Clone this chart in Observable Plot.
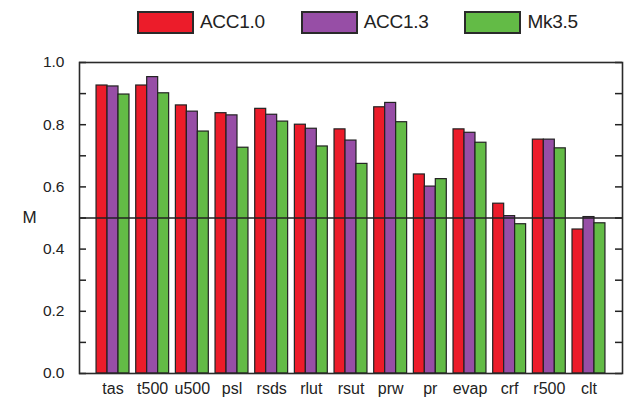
<!DOCTYPE html>
<html>
<head>
<meta charset="utf-8">
<script src="https://cdn.jsdelivr.net/npm/d3@7"></script>
<script src="https://cdn.jsdelivr.net/npm/@observablehq/plot@0.6"></script>
<style>
  html, body { margin: 0; padding: 0; background: #fff; }
  body { width: 624px; height: 405px; overflow: hidden; font-family: "Liberation Sans", Arial, sans-serif; }
  #legend { height: 44px; display: flex; align-items: center; padding-left: 137px; gap: 36px; box-sizing: border-box; }
  .item { display: flex; align-items: center; gap: 6px; font-size: 19px; color: #222; letter-spacing: -0.3px; }
  .sw { width: 53px; height: 19px; border: 2px solid #2a2a2a; }
  #chart svg { display: block; }
</style>
</head>
<body>
<div id="legend"></div>
<div id="chart"></div>
<script>
const variables = ["tas","t500","u500","psl","rsds","rlut","rsut","prw","pr","evap","crf","r500","clt"];
const models = ["ACC1.0","ACC1.3","Mk3.5"];
const colors = ["#ec1c2a","#974ea6","#63bb46"];
const acc10 = [0.926,0.926,0.862,0.837,0.851,0.800,0.785,0.856,0.640,0.785,0.546,0.752,0.463];
const acc13 = [0.923,0.953,0.842,0.830,0.832,0.787,0.749,0.870,0.601,0.774,0.506,0.752,0.503];
const mk35  = [0.897,0.901,0.778,0.726,0.810,0.730,0.674,0.808,0.625,0.742,0.480,0.724,0.483];
const yTicks = [0, 0.2, 0.4, 0.6, 0.8, 1.0];
const yMinorTicks = [0.1, 0.3, 0.5, 0.7, 0.9];
const refLine = [0.5];

const series = [acc10, acc13, mk35];
const rows = models.map((m, k) => variables.map((v, i) => ({variable: v, model: m, value: series[k][i]})));

// legend
const legend = document.getElementById("legend");
models.forEach((m, k) => {
  const it = document.createElement("div");
  it.className = "item";
  it.innerHTML = `<div class="sw" style="background:${colors[k]}"></div><span>${m}</span>`;
  legend.appendChild(it);
});

const W = 624, H = 361, mL = 79, mR = 2, mT = 18, mB = 32;
const pIn = 0.17, pOut = 0.43;
const step = (W - mL - mR) / (variables.length - pIn + 2 * pOut);
const bw = step * (1 - pIn);
const third = bw / 3;
const innerW = W - mL - mR;

const barStyle = {stroke: "#222", strokeWidth: 1.2};

const plot = Plot.plot({
  width: W, height: H,
  marginLeft: mL, marginRight: mR, marginTop: mT, marginBottom: mB,
  style: {fontFamily: "'Liberation Sans', Arial, sans-serif", background: "#fff", color: "#222"},
  x: {domain: variables, paddingInner: pIn, paddingOuter: pOut, round: false, axis: null},
  y: {domain: [0, 1], axis: null},
  marks: [
    Plot.barY(rows[0], {x: "variable", y: "value", fill: colors[0], ...barStyle, insetLeft: 0, insetRight: 2 * third}),
    Plot.barY(rows[1], {x: "variable", y: "value", fill: colors[1], ...barStyle, insetLeft: third, insetRight: third}),
    Plot.barY(rows[2], {x: "variable", y: "value", fill: colors[2], ...barStyle, insetLeft: 2 * third, insetRight: 0}),
    Plot.ruleY(refLine, {stroke: "#222", strokeWidth: 1.5}),
    Plot.tickY([...yTicks, ...yMinorTicks], {y: d => d, stroke: "#222", strokeWidth: 1.5, insetRight: innerW - 7}),
    Plot.tickY([...yTicks, ...yMinorTicks], {y: d => d, stroke: "#222", strokeWidth: 1.5, insetLeft: innerW - 7}),
    Plot.axisY({ticks: yTicks, tickSize: 0, tickPadding: 15, tickFormat: d3.format(".1f"), fontSize: 15.5, label: null, fill: "#222"}),
    Plot.axisX({tickSize: 0, tickPadding: 9, fontSize: 16, label: null, fill: "#222"}),
    Plot.text(["M"], {text: d => d, frameAnchor: "left", dx: -50, fontSize: 17, fill: "#222", textAnchor: "middle"}),
    Plot.frame({stroke: "#2a2a2a", strokeWidth: 1.6})
  ]
});
document.getElementById("chart").appendChild(plot);
</script>
</body>
</html>
